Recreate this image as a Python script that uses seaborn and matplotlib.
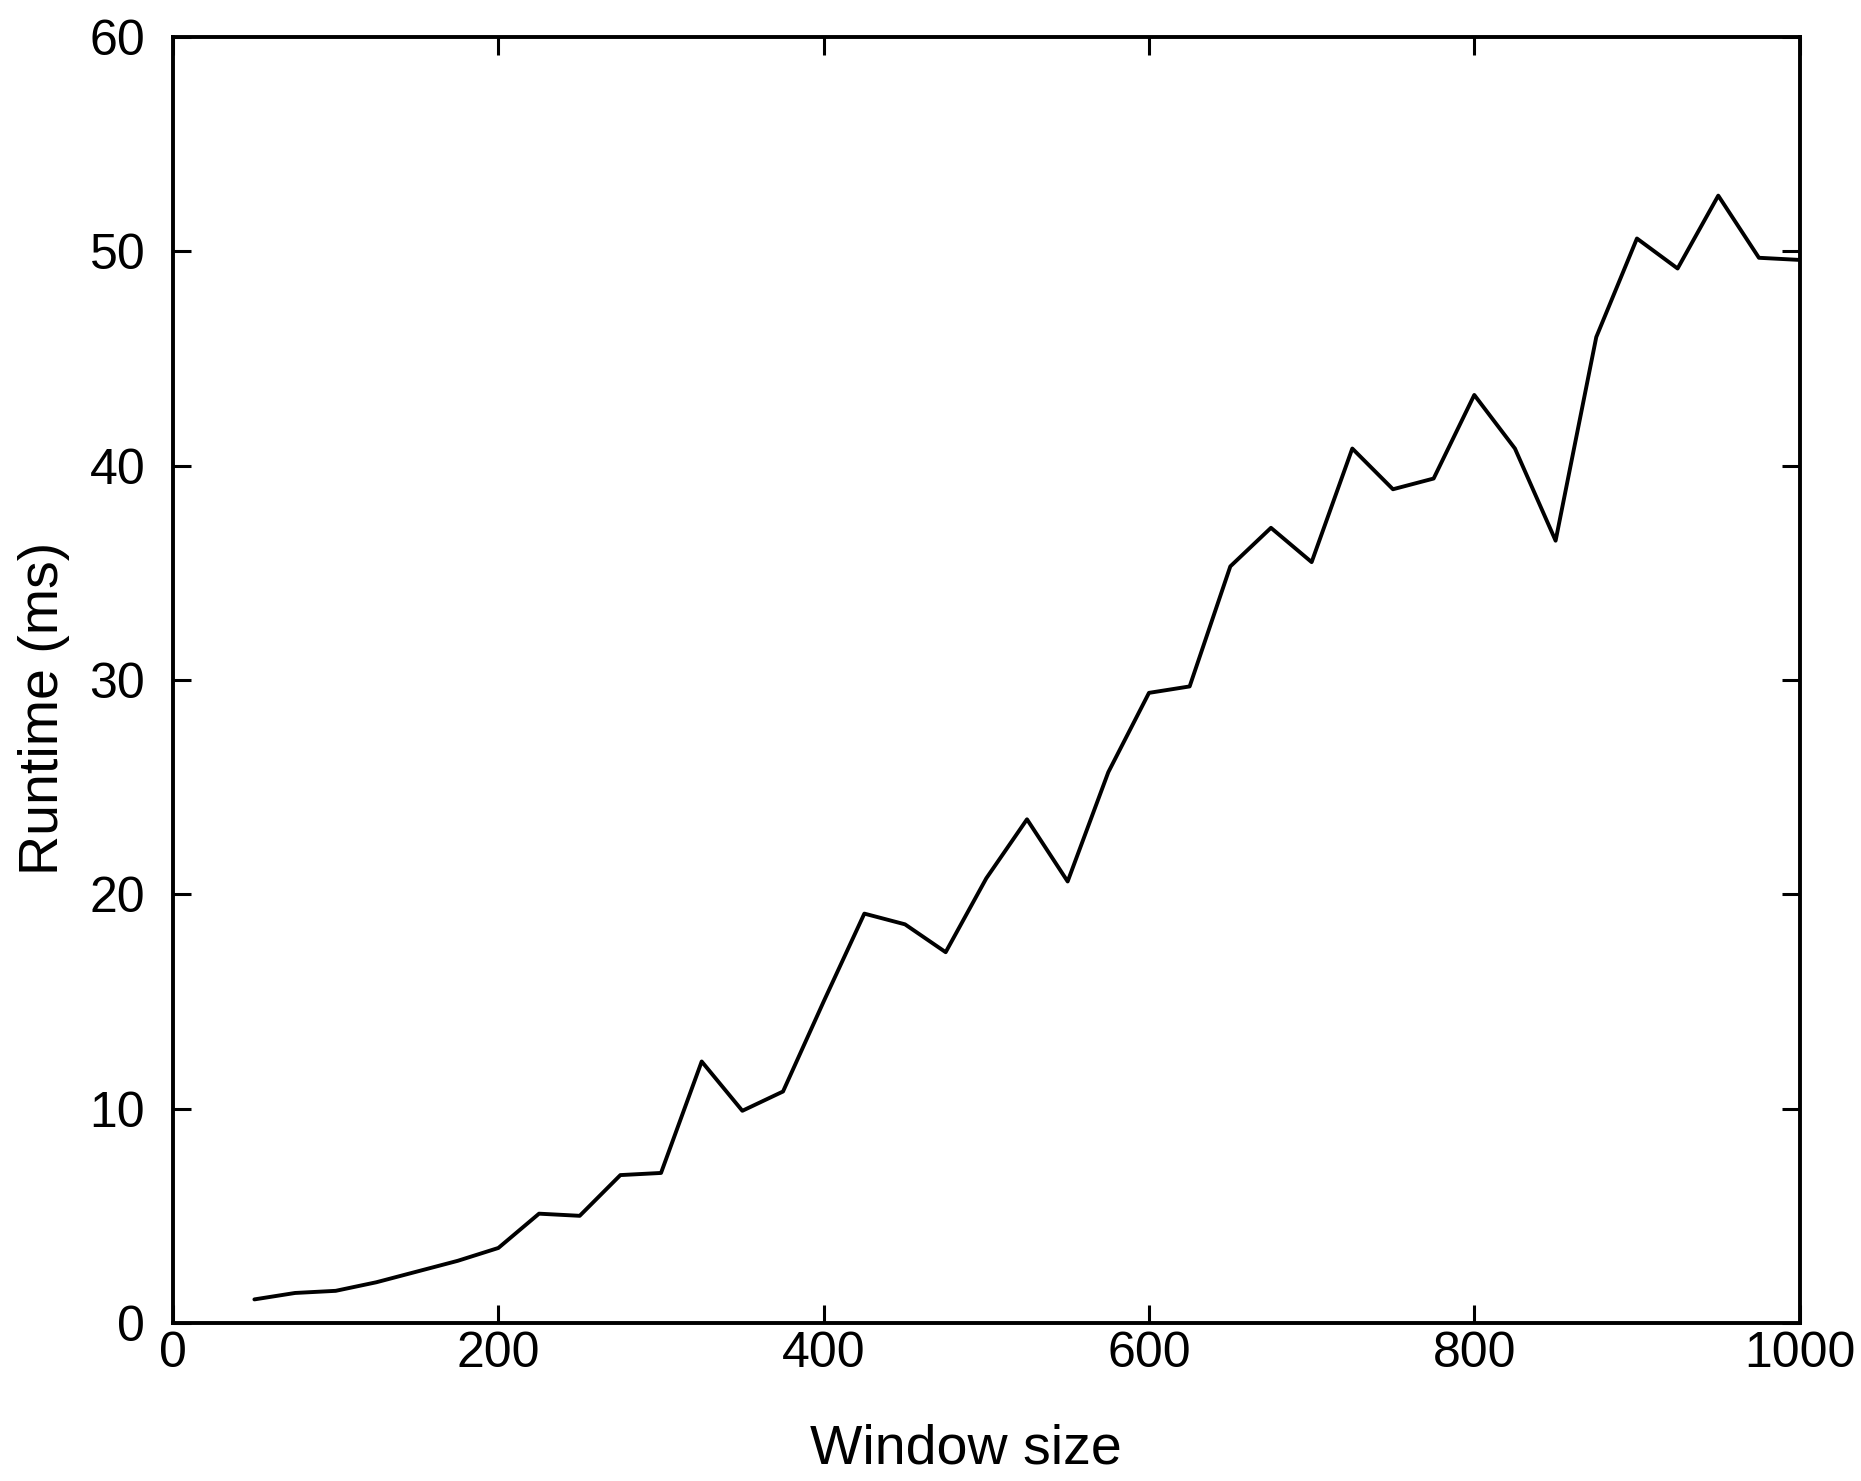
import pandas as pd
import seaborn as sns
import matplotlib
matplotlib.use("Agg")
import matplotlib.pyplot as plt

window_size = [50, 75, 100, 125, 150, 175, 200, 225, 250, 275, 300, 325, 350, 375,
               400, 425, 450, 475, 500, 525, 550, 575, 600, 625, 650, 675, 700, 725,
               750, 775, 800, 825, 850, 875, 900, 925, 950, 975, 1000]
runtime_ms = [1.1, 1.4, 1.5, 1.9, 2.4, 2.9, 3.5, 5.1, 5.0, 6.9, 7.0, 12.2, 9.9, 10.8,
              15.0, 19.1, 18.6, 17.3, 20.75, 23.5, 20.6, 25.7, 29.4, 29.7, 35.3, 37.1,
              35.5, 40.8, 38.9, 39.4, 43.3, 40.8, 36.5, 46.0, 50.6, 49.2, 52.6, 49.7, 49.6]

x_ticks = [0, 200, 400, 600, 800, 1000]
y_ticks = [0, 10, 20, 30, 40, 50, 60]

df = pd.DataFrame({"Window size": window_size, "Runtime (ms)": runtime_ms})

sns.set_style("ticks")
plt.rcParams['font.family'] = ['Liberation Sans', 'DejaVu Sans']

fig = plt.figure(figsize=(18.61, 14.81), dpi=100)
ax = fig.add_axes([0.093, 0.1067, 0.874, 0.8683])

sns.lineplot(data=df, x="Window size", y="Runtime (ms)", color="black", linewidth=2.8, ax=ax)

ax.set_xlim(0, 1000)
ax.set_ylim(0, 60)
ax.set_xticks(x_ticks)
ax.set_yticks(y_ticks)
for s in ax.spines.values():
    s.set_visible(True)
    s.set_linewidth(2.8)
    s.set_color("black")
ax.tick_params(axis="both", direction="in", length=13, width=2.2, colors="black",
               labelcolor="black", top=True, right=True, labelsize=36)
ax.tick_params(axis="y", pad=20)
ax.tick_params(axis="x", pad=6)
ax.set_xlabel("Window size", fontsize=40, color="black")
ax.set_ylabel("Runtime (ms)", fontsize=40, color="black")
# label placement is a bit off-centre in the original
ax.xaxis.set_label_coords(0.4875, -0.078)
ax.yaxis.set_label_coords(-0.0635, 0.478)

fig.savefig("out.png", dpi=100, facecolor="white")
